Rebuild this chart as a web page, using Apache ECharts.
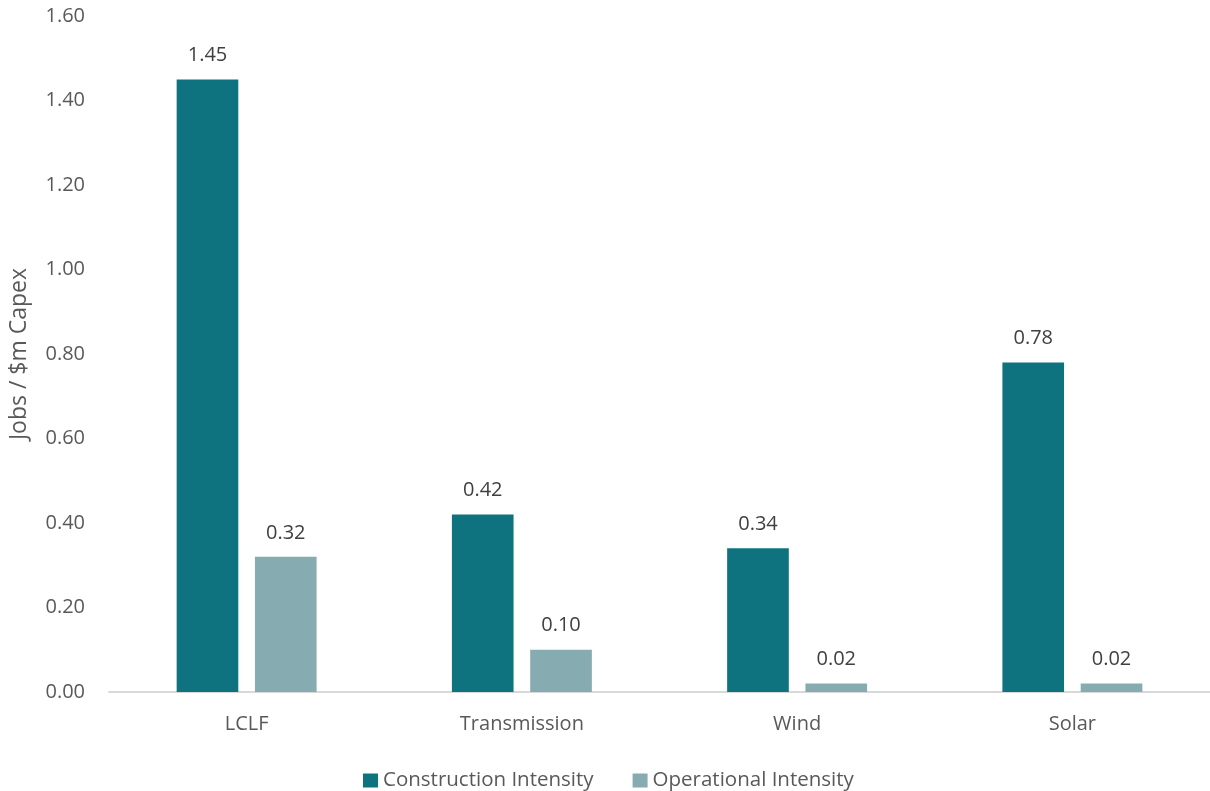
<!DOCTYPE html>
<html>
<head>
<meta charset="utf-8">
<script src="https://cdn.jsdelivr.net/npm/echarts@6/dist/echarts.min.js"></script>
<style>
  html, body { margin: 0; padding: 0; background: #ffffff; }
  #chart { width: 1210px; height: 791px; }
</style>
</head>
<body>
<div id="chart"></div>
<script>
// Job intensity per $m of capital expenditure, by technology
const categories = ['LCLF', 'Transmission', 'Wind', 'Solar'];
const constructionIntensity = [1.45, 0.42, 0.34, 0.78];
const operationalIntensity = [0.32, 0.10, 0.02, 0.02];
const seriesNames = ['Construction Intensity', 'Operational Intensity'];
const yAxisTitle = 'Jobs / $m Capex';

const textColor = '#595959';
const fontFamily = 'Open Sans, Lato, sans-serif';

const chart = echarts.init(document.getElementById('chart'), null, { renderer: 'canvas' });

const labelStyle = {
  show: true,
  position: 'top',
  distance: 14,
  color: '#404040',
  fontSize: 20,
  fontFamily: fontFamily,
  formatter: p => p.value.toFixed(2)
};

chart.setOption({
  animation: false,
  backgroundColor: '#ffffff',
  textStyle: { fontFamily: fontFamily, color: textColor },
  grid: { left: 107, right: -2, top: 16, bottom: 99, containLabel: false },
  legend: {
    top: 765,
    left: 358,
    itemWidth: 15,
    itemHeight: 14,
    itemGap: 39,
    icon: 'rect',
    textStyle: { color: textColor, fontSize: 20.5, fontFamily: fontFamily },
    data: seriesNames
  },
  xAxis: {
    type: 'category',
    data: categories,
    axisLine: { lineStyle: { color: '#d9d9d9', width: 2 } },
    axisTick: { show: false },
    axisLabel: { color: textColor, fontSize: 20, margin: 22, fontFamily: fontFamily }
  },
  yAxis: {
    type: 'value',
    min: 0,
    max: 1.6,
    interval: 0.2,
    name: yAxisTitle,
    nameLocation: 'middle',
    nameGap: 78,
    nameRotate: 90,
    nameTextStyle: { color: textColor, fontSize: 23, fontFamily: fontFamily },
    axisLine: { show: false },
    axisTick: { show: false },
    splitLine: { show: false },
    axisLabel: {
      color: textColor,
      fontSize: 20,
      margin: 24,
      fontFamily: fontFamily,
      formatter: v => v.toFixed(2)
    }
  },
  series: [
    {
      name: seriesNames[0],
      type: 'bar',
      data: constructionIntensity,
      barWidth: '22.4%',
      barGap: '27%',
      itemStyle: { color: '#0e737e' },
      label: labelStyle
    },
    {
      name: seriesNames[1],
      type: 'bar',
      data: operationalIntensity,
      barWidth: '22.4%',
      itemStyle: { color: '#86abb1' },
      label: labelStyle
    }
  ]
});
</script>
</body>
</html>
